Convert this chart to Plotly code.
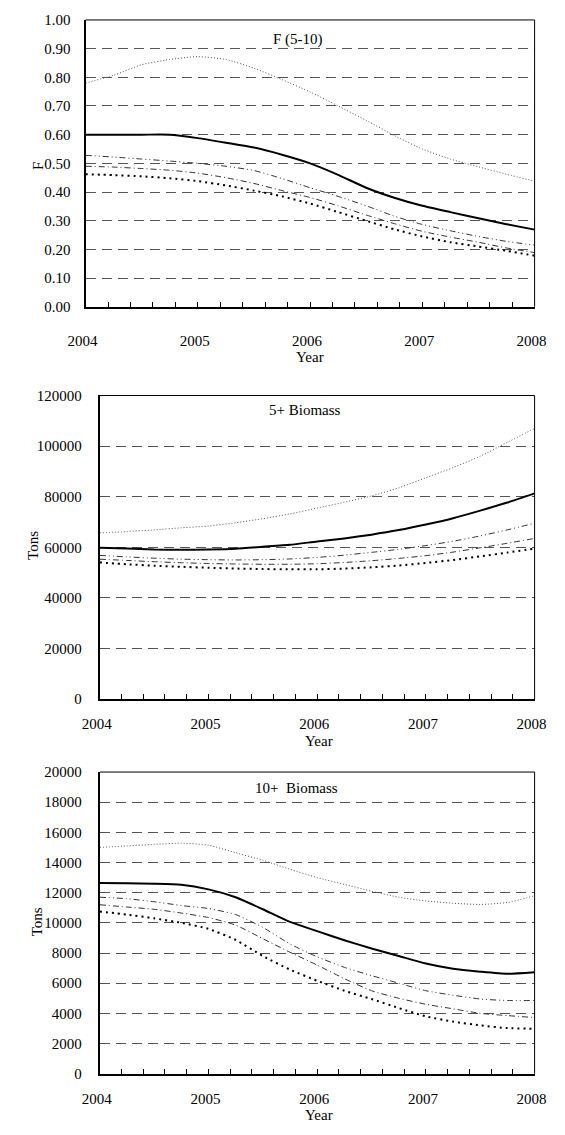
import plotly.graph_objects as go

# ---------------- data ----------------
years = [2004, 2004.25, 2004.5, 2004.75, 2005, 2005.25, 2005.5, 2005.75, 2006,
         2006.25, 2006.5, 2006.75, 2007, 2007.25, 2007.5, 2007.75, 2008]
year_ticks = [2004, 2005, 2006, 2007, 2008]

# F (5-10)
f_s1 = [0.780, 0.807, 0.844, 0.862, 0.872, 0.862, 0.832, 0.792, 0.749, 0.700, 0.650, 0.597, 0.550, 0.515, 0.488, 0.462, 0.438]
f_s2 = [0.600, 0.600, 0.600, 0.600, 0.588, 0.572, 0.555, 0.530, 0.500, 0.460, 0.415, 0.380, 0.352, 0.330, 0.309, 0.288, 0.269]
f_s3 = [0.528, 0.522, 0.515, 0.508, 0.500, 0.490, 0.475, 0.447, 0.415, 0.385, 0.352, 0.316, 0.287, 0.265, 0.245, 0.228, 0.215]
f_s4 = [0.490, 0.487, 0.482, 0.476, 0.466, 0.450, 0.430, 0.405, 0.381, 0.352, 0.320, 0.290, 0.263, 0.243, 0.225, 0.205, 0.189]
f_s5 = [0.462, 0.459, 0.455, 0.448, 0.438, 0.423, 0.405, 0.385, 0.360, 0.330, 0.300, 0.270, 0.245, 0.225, 0.210, 0.195, 0.178]

# 5+ Biomass (tons)
b5_s1 = [65700, 66200, 66900, 67700, 68400, 69700, 71300, 73200, 75500, 77800, 80300, 83500, 87500, 91500, 96000, 101500, 107000]
b5_s2 = [59800, 59500, 59100, 59000, 59100, 59400, 60200, 61000, 62300, 63500, 65000, 66800, 69000, 71500, 74500, 77700, 81300]
b5_s3 = [56800, 56200, 55700, 55300, 55100, 55000, 55100, 55400, 56000, 56900, 58000, 59200, 60700, 62400, 64500, 66900, 69500]
b5_s4 = [55300, 54800, 54300, 53900, 53600, 53400, 53300, 53300, 53500, 54000, 54700, 55600, 56700, 58100, 59800, 61600, 63500]
b5_s5 = [54000, 53300, 52700, 52300, 51900, 51600, 51400, 51300, 51300, 51600, 52100, 52800, 53800, 55000, 56400, 57900, 59500]

# 10+ Biomass (tons)
b10_s1 = [15000, 15100, 15200, 15280, 15150, 14650, 14150, 13550, 13000, 12550, 12100, 11700, 11450, 11300, 11220, 11350, 11800]
b10_s2 = [12650, 12620, 12600, 12530, 12220, 11700, 10900, 10060, 9450, 8850, 8300, 7800, 7300, 6950, 6760, 6620, 6720]
b10_s3 = [11700, 11600, 11400, 11150, 10950, 10550, 9700, 8600, 7750, 7050, 6500, 6000, 5500, 5200, 4950, 4850, 4850]
b10_s4 = [11200, 11050, 10900, 10650, 10350, 9850, 8950, 8050, 7200, 6300, 5500, 5000, 4600, 4300, 4000, 3850, 3720]
b10_s5 = [10750, 10550, 10300, 10000, 9600, 8870, 7800, 6900, 6160, 5500, 4950, 4350, 3800, 3450, 3200, 3020, 2980]

panel_titles = ["F (5-10)", "5+ Biomass", "10+  Biomass"]
y_titles = ["F", "Tons", "Tons"]
x_title = "Year"

# ---------------- styling ----------------
PAGE_W, PAGE_H = 565, 1135
BODY_M = 8                      # default browser body margin
W, H = PAGE_W - 2 * BODY_M, PAGE_H - 2 * BODY_M
FONT = "Liberation Serif"
styles = [
    dict(color="#555555", width=1, dash="1px,2px"),                   # thin dotted
    dict(color="black", width=2, dash="solid"),                        # solid
    dict(color="#333333", width=1, dash="6px,3px,1px,3px,1px,3px"),    # dash-dot-dot
    dict(color="#333333", width=1, dash="6px,3px,1px,3px"),            # dash-dot
    dict(color="black", width=2, dash="2px,4px"),                      # thick dotted
]


def px_x(p):
    return (p - BODY_M) / W


def px_y(p):
    return 1 - (p - BODY_M) / H


panels = [
    dict(series=[f_s1, f_s2, f_s3, f_s4, f_s5], x0=71, x1=546, y0=12, y1=303,
         yrange=[0, 1.0], dtick=0.1, fmt=".2f", standoff_x=19, standoff_y=10),
    dict(series=[b5_s1, b5_s2, b5_s3, b5_s4, b5_s5], x0=86, x1=546, y0=393, y1=701,
         yrange=[0, 120000], dtick=20000, fmt="d", standoff_x=10, standoff_y=13),
    dict(series=[b10_s1, b10_s2, b10_s3, b10_s4, b10_s5], x0=86, x1=546, y0=775, y1=1081,
         yrange=[0, 20000], dtick=2000, fmt="d", standoff_x=10, standoff_y=13),
]

fig = go.Figure()
layout = dict(
    width=W, height=H, margin=dict(l=0, r=0, t=0, b=0),
    paper_bgcolor="white", plot_bgcolor="white", showlegend=False,
    font=dict(family=FONT, size=15, color="black"),
    shapes=[], annotations=[],
)

title_pos = [(296, 32), (303, 408), (294, 791)]
ytitle_pos = [(21, 160), (16, 545), (19, 927)]
xtitle_pos = [(308, 354), (318, 744), (318, 1123)]

for i, p in enumerate(panels):
    n = "" if i == 0 else str(i + 1)
    xa, ya = "x" + n, "y" + n
    for s, st in zip(p["series"], styles):
        fig.add_trace(go.Scatter(x=years, y=s, mode="lines",
                                 line=dict(shape="spline", smoothing=0.6, **st),
                                 xaxis=xa, yaxis=ya, hoverinfo="skip"))
    layout["xaxis" + n] = dict(
        domain=[px_x(p["x0"]), px_x(p["x1"])], anchor=ya, range=[2004, 2008],
        tickmode="array", tickvals=year_ticks, ticktext=[str(t) for t in year_ticks],
        ticks="inside", ticklen=5, tickcolor="black",
        minor=dict(ticks="inside", dtick=0.2, tick0=2004, ticklen=5, tickcolor="black", showgrid=False),
        showgrid=False, zeroline=False, showline=True, linecolor="black", linewidth=2,
        ticklabelstandoff=p["standoff_x"], ticklabelshift=-3, ticklabeloverflow="allow",
        tickfont=dict(family=FONT, size=15), fixedrange=True,
    )
    layout["yaxis" + n] = dict(
        domain=[px_y(p["y1"]), px_y(p["y0"])], anchor=xa, range=p["yrange"],
        tickmode="linear", tick0=0, dtick=p["dtick"], tickformat=p["fmt"],
        ticks="", showgrid=True, gridcolor="#555555", gridwidth=1, griddash="10px,6px",
        zeroline=False, showline=True, linecolor="black", linewidth=2,
        ticklabelstandoff=p["standoff_y"], ticklabeloverflow="allow",
        tickfont=dict(family=FONT, size=15), fixedrange=True,
    )
    # thin top and right frame lines
    layout["shapes"].append(dict(type="line", xref=xa + " domain", yref=ya + " domain",
                                 x0=0, x1=1, y0=1, y1=1, line=dict(color="black", width=1)))
    layout["shapes"].append(dict(type="line", xref=xa + " domain", yref=ya + " domain",
                                 x0=1, x1=1, y0=0, y1=1, line=dict(color="black", width=1)))
    tx, ty = title_pos[i]
    layout["annotations"].append(dict(text=panel_titles[i], x=px_x(tx), y=px_y(ty), xref="paper", yref="paper",
                                      showarrow=False, xanchor="center", yanchor="middle",
                                      font=dict(family=FONT, size=15)))
    yx, yy = ytitle_pos[i]
    layout["annotations"].append(dict(text=y_titles[i], x=px_x(yx), y=px_y(yy), xref="paper", yref="paper",
                                      showarrow=False, xanchor="center", yanchor="middle", textangle=-90,
                                      font=dict(family=FONT, size=15)))
    xx, xy = xtitle_pos[i]
    layout["annotations"].append(dict(text=x_title, x=px_x(xx), y=px_y(xy), xref="paper", yref="paper",
                                      showarrow=False, xanchor="center", yanchor="middle",
                                      font=dict(family=FONT, size=15)))

fig.update_layout(**layout)
fig.write_html("out.html", config={"displayModeBar": False})
